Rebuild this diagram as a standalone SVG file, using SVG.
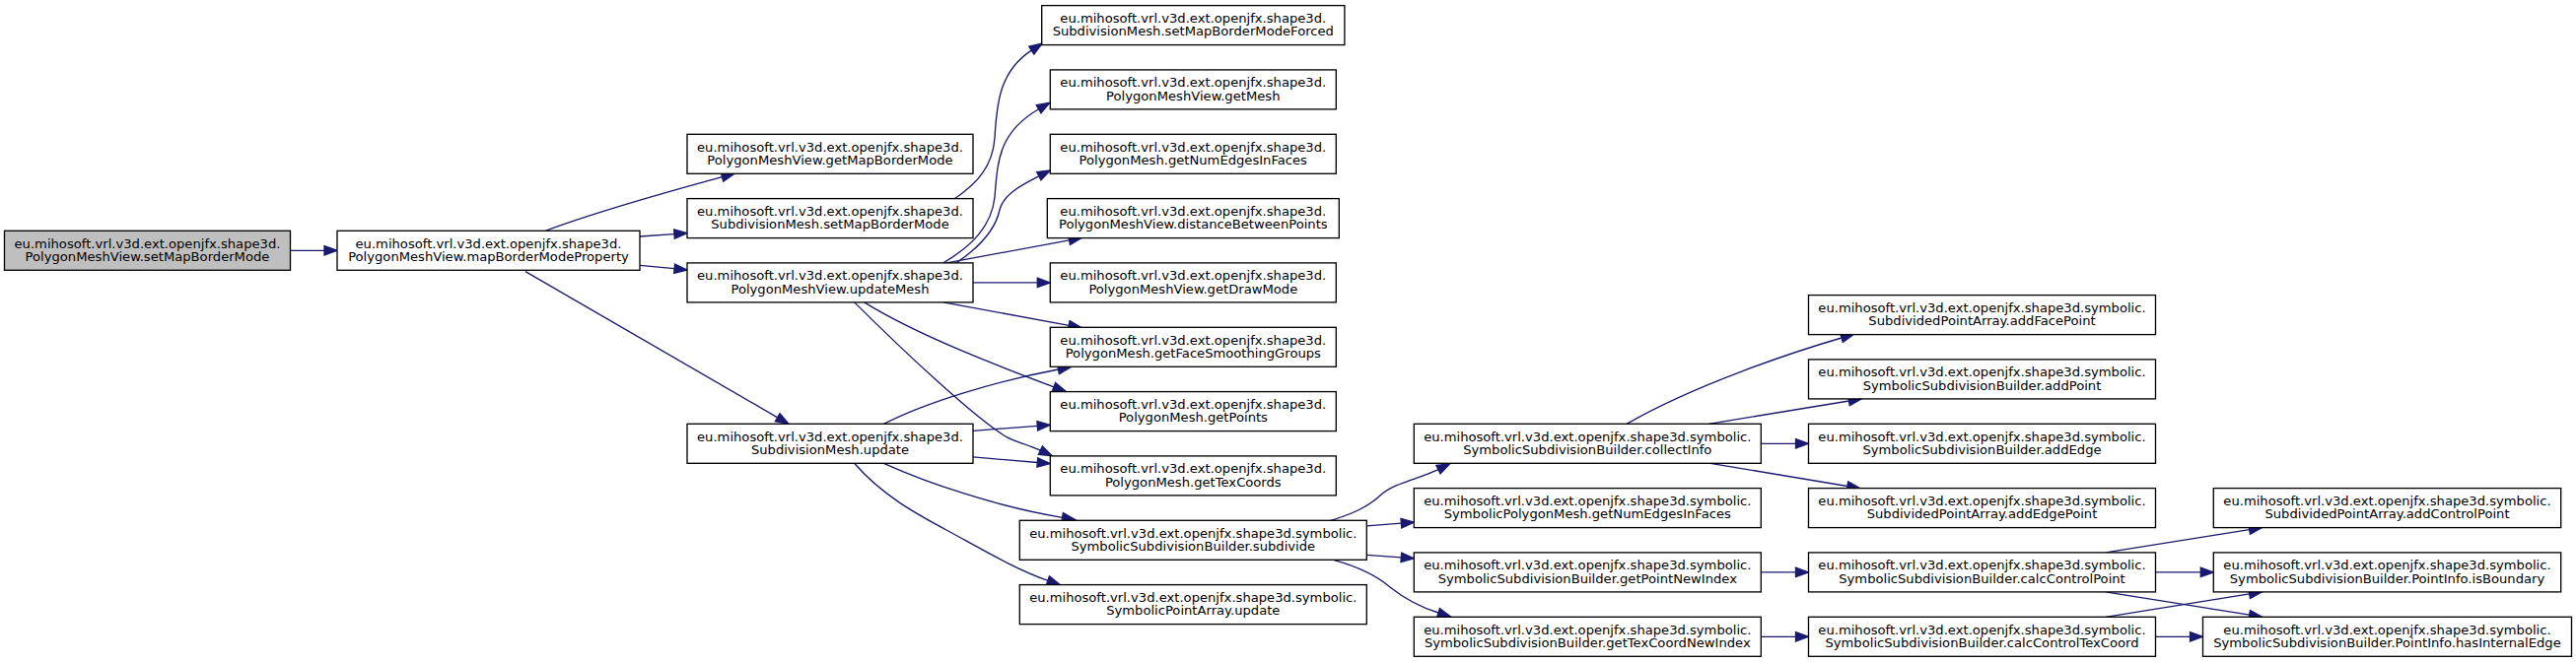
<svg xmlns="http://www.w3.org/2000/svg" width="2613" height="672" viewBox="0 0 2613 672">
<style>
.node rect{fill:#fff;stroke:#000;stroke-width:1.33}
.root rect{fill:#bfbfbf}
.node text{font-family:"DejaVu Sans",sans-serif;font-size:13.13px;text-anchor:middle;fill:#000}
.edge path{fill:none;stroke:#191970;stroke-width:1.33;marker-end:url(#ah)}
</style>
<defs>
<marker id="ah" viewBox="0 0 13 9.4" refX="0" refY="4.7" markerWidth="13" markerHeight="9.4" markerUnits="userSpaceOnUse" orient="auto" overflow="visible">
<path d="M0,0 L13,4.7 L0,9.4 Z" fill="#191970" stroke="#191970" stroke-width="1.33"/>
</marker>
</defs>
<rect width="2613" height="672" fill="#fff"/>
<g id="connectors" class="edge">
<path d="M294.7,254.3 L329,254.3"/>
<path d="M553.3,234.3 C600,217 680,194 732.5,179.7"/>
<path d="M649,240 L684,237.6"/>
<path d="M649,269.3 L684.1,272.7"/>
<path d="M533,275.7 L788.7,423.8"/>
<path d="M968.3,201.7 C992,186 1007,168 1009,140 C1011,105 1014,72 1046.3,51.1"/>
<path d="M957,266.9 C985,250 1006,230 1009,200 C1012,165 1012,135 1053.6,110.75"/>
<path d="M970,266.9 C995,250 1010,232 1014,213 C1018,197 1036,188 1053.8,178.8"/>
<path d="M960.4,266.9 L1084.6,243.8"/>
<path d="M987,286.9 L1052.3,286.9"/>
<path d="M956.8,306.9 L1084.2,330.3"/>
<path d="M876.7,306.9 C930,340 1010,370.6 1069,392.8"/>
<path d="M866.7,306.9 C920,360 990,425 1020,443 C1030,449 1040,450 1055.4,457.2"/>
<path d="M896.5,430.3 C940,408 1010,387 1073.5,375"/>
<path d="M987,437.3 L1052.3,432.3"/>
<path d="M987,463.9 L1052.3,469.5"/>
<path d="M896.5,470.3 C940,490 1010,514 1077.6,525.3"/>
<path d="M866.6,470.3 C895,503 930,522 960,538 C995,557 1030,578 1062.9,589.3"/>
<path d="M1348.3,529 C1370,522 1386,516 1400,503 C1414,490 1440,486 1459,476.7"/>
<path d="M1386.3,533.9 L1421.4,531.2"/>
<path d="M1386.3,563.3 L1421.3,565.9"/>
<path d="M1353.3,568.7 C1380,576 1397,585 1410,596 C1425,608 1440,616 1459,622"/>
<path d="M1650,430.3 C1720,390 1820,357 1868,343"/>
<path d="M1733.3,430.3 L1875.5,407"/>
<path d="M1786.3,450.3 L1821.5,450.3"/>
<path d="M1735,470.3 L1873.9,493.5"/>
<path d="M1786.3,580.9 L1821.5,580.9"/>
<path d="M1786.3,646.3 L1821.5,646.3"/>
<path d="M2135.8,560.9 L2281.7,537.6"/>
<path d="M2186.5,580.9 L2232.3,580.9"/>
<path d="M2135.8,600.9 L2281.7,624.2"/>
<path d="M2135.8,626.3 L2281.7,602.9"/>
<path d="M2186.5,646.3 L2221.5,646.3"/>
</g>
<g id="n0" class="node root"><rect x="4.5" y="234.3" width="290" height="40"/><text x="149.5" y="251.5">eu.mihosoft.vrl.v3d.ext.openjfx.shape3d.</text><text x="149.5" y="264.9">PolygonMeshView.setMapBorderMode</text></g>
<g id="n1" class="node"><rect x="342" y="234.3" width="307" height="40"/><text x="495.5" y="251.5">eu.mihosoft.vrl.v3d.ext.openjfx.shape3d.</text><text x="495.5" y="264.9">PolygonMeshView.mapBorderModeProperty</text></g>
<g id="n2" class="node"><rect x="697" y="136.3" width="290" height="40"/><text x="842" y="153.5">eu.mihosoft.vrl.v3d.ext.openjfx.shape3d.</text><text x="842" y="166.9">PolygonMeshView.getMapBorderMode</text></g>
<g id="n3" class="node"><rect x="697" y="201.6" width="290" height="40"/><text x="842" y="218.8">eu.mihosoft.vrl.v3d.ext.openjfx.shape3d.</text><text x="842" y="232.2">SubdivisionMesh.setMapBorderMode</text></g>
<g id="n4" class="node"><rect x="697" y="266.9" width="290" height="40"/><text x="842" y="284.1">eu.mihosoft.vrl.v3d.ext.openjfx.shape3d.</text><text x="842" y="297.5">PolygonMeshView.updateMesh</text></g>
<g id="n5" class="node"><rect x="697" y="430.3" width="290" height="40"/><text x="842" y="447.5">eu.mihosoft.vrl.v3d.ext.openjfx.shape3d.</text><text x="842" y="460.9">SubdivisionMesh.update</text></g>
<g id="n6" class="node"><rect x="1056.7" y="5.6" width="307.2" height="40"/><text x="1210.3" y="22.8">eu.mihosoft.vrl.v3d.ext.openjfx.shape3d.</text><text x="1210.3" y="36.2">SubdivisionMesh.setMapBorderModeForced</text></g>
<g id="n7" class="node"><rect x="1065.3" y="70.9" width="290" height="40"/><text x="1210.3" y="88.1">eu.mihosoft.vrl.v3d.ext.openjfx.shape3d.</text><text x="1210.3" y="101.5">PolygonMeshView.getMesh</text></g>
<g id="n8" class="node"><rect x="1065.3" y="136.3" width="290" height="40"/><text x="1210.3" y="153.5">eu.mihosoft.vrl.v3d.ext.openjfx.shape3d.</text><text x="1210.3" y="166.9">PolygonMesh.getNumEdgesInFaces</text></g>
<g id="n9" class="node"><rect x="1062.3" y="201.6" width="296" height="40"/><text x="1210.3" y="218.8">eu.mihosoft.vrl.v3d.ext.openjfx.shape3d.</text><text x="1210.3" y="232.2">PolygonMeshView.distanceBetweenPoints</text></g>
<g id="n10" class="node"><rect x="1065.3" y="266.9" width="290" height="40"/><text x="1210.3" y="284.1">eu.mihosoft.vrl.v3d.ext.openjfx.shape3d.</text><text x="1210.3" y="297.5">PolygonMeshView.getDrawMode</text></g>
<g id="n11" class="node"><rect x="1065.3" y="332.3" width="290" height="40"/><text x="1210.3" y="349.5">eu.mihosoft.vrl.v3d.ext.openjfx.shape3d.</text><text x="1210.3" y="362.9">PolygonMesh.getFaceSmoothingGroups</text></g>
<g id="n12" class="node"><rect x="1065.3" y="397.6" width="290" height="40"/><text x="1210.3" y="414.8">eu.mihosoft.vrl.v3d.ext.openjfx.shape3d.</text><text x="1210.3" y="428.2">PolygonMesh.getPoints</text></g>
<g id="n13" class="node"><rect x="1065.3" y="462.9" width="290" height="40"/><text x="1210.3" y="480.1">eu.mihosoft.vrl.v3d.ext.openjfx.shape3d.</text><text x="1210.3" y="493.5">PolygonMesh.getTexCoords</text></g>
<g id="n14" class="node"><rect x="1034.3" y="528.3" width="352" height="40"/><text x="1210.3" y="545.5">eu.mihosoft.vrl.v3d.ext.openjfx.shape3d.symbolic.</text><text x="1210.3" y="558.9">SymbolicSubdivisionBuilder.subdivide</text></g>
<g id="n15" class="node"><rect x="1034.3" y="593.6" width="352" height="40"/><text x="1210.3" y="610.8">eu.mihosoft.vrl.v3d.ext.openjfx.shape3d.symbolic.</text><text x="1210.3" y="624.2">SymbolicPointArray.update</text></g>
<g id="n16" class="node"><rect x="1434.3" y="430.3" width="352" height="40"/><text x="1610.3" y="447.5">eu.mihosoft.vrl.v3d.ext.openjfx.shape3d.symbolic.</text><text x="1610.3" y="460.9">SymbolicSubdivisionBuilder.collectInfo</text></g>
<g id="n17" class="node"><rect x="1434.3" y="495.6" width="352" height="40"/><text x="1610.3" y="512.8">eu.mihosoft.vrl.v3d.ext.openjfx.shape3d.symbolic.</text><text x="1610.3" y="526.2">SymbolicPolygonMesh.getNumEdgesInFaces</text></g>
<g id="n18" class="node"><rect x="1434.3" y="560.9" width="352" height="40"/><text x="1610.3" y="578.1">eu.mihosoft.vrl.v3d.ext.openjfx.shape3d.symbolic.</text><text x="1610.3" y="591.5">SymbolicSubdivisionBuilder.getPointNewIndex</text></g>
<g id="n19" class="node"><rect x="1434.3" y="626.3" width="352" height="40"/><text x="1610.3" y="643.5">eu.mihosoft.vrl.v3d.ext.openjfx.shape3d.symbolic.</text><text x="1610.3" y="656.9">SymbolicSubdivisionBuilder.getTexCoordNewIndex</text></g>
<g id="n20" class="node"><rect x="1834.5" y="299.6" width="352" height="40"/><text x="2010.5" y="316.8">eu.mihosoft.vrl.v3d.ext.openjfx.shape3d.symbolic.</text><text x="2010.5" y="330.2">SubdividedPointArray.addFacePoint</text></g>
<g id="n21" class="node"><rect x="1834.5" y="364.9" width="352" height="40"/><text x="2010.5" y="382.1">eu.mihosoft.vrl.v3d.ext.openjfx.shape3d.symbolic.</text><text x="2010.5" y="395.5">SymbolicSubdivisionBuilder.addPoint</text></g>
<g id="n22" class="node"><rect x="1834.5" y="430.3" width="352" height="40"/><text x="2010.5" y="447.5">eu.mihosoft.vrl.v3d.ext.openjfx.shape3d.symbolic.</text><text x="2010.5" y="460.9">SymbolicSubdivisionBuilder.addEdge</text></g>
<g id="n23" class="node"><rect x="1834.5" y="495.6" width="352" height="40"/><text x="2010.5" y="512.8">eu.mihosoft.vrl.v3d.ext.openjfx.shape3d.symbolic.</text><text x="2010.5" y="526.2">SubdividedPointArray.addEdgePoint</text></g>
<g id="n24" class="node"><rect x="1834.5" y="560.9" width="352" height="40"/><text x="2010.5" y="578.1">eu.mihosoft.vrl.v3d.ext.openjfx.shape3d.symbolic.</text><text x="2010.5" y="591.5">SymbolicSubdivisionBuilder.calcControlPoint</text></g>
<g id="n25" class="node"><rect x="1834.5" y="626.3" width="352" height="40"/><text x="2010.5" y="643.5">eu.mihosoft.vrl.v3d.ext.openjfx.shape3d.symbolic.</text><text x="2010.5" y="656.9">SymbolicSubdivisionBuilder.calcControlTexCoord</text></g>
<g id="n26" class="node"><rect x="2245.3" y="495.6" width="352.4" height="40"/><text x="2421.5" y="512.8">eu.mihosoft.vrl.v3d.ext.openjfx.shape3d.symbolic.</text><text x="2421.5" y="526.2">SubdividedPointArray.addControlPoint</text></g>
<g id="n27" class="node"><rect x="2245.3" y="560.9" width="352.4" height="40"/><text x="2421.5" y="578.1">eu.mihosoft.vrl.v3d.ext.openjfx.shape3d.symbolic.</text><text x="2421.5" y="591.5">SymbolicSubdivisionBuilder.PointInfo.isBoundary</text></g>
<g id="n28" class="node"><rect x="2234.5" y="626.3" width="374" height="40"/><text x="2421.5" y="643.5">eu.mihosoft.vrl.v3d.ext.openjfx.shape3d.symbolic.</text><text x="2421.5" y="656.9">SymbolicSubdivisionBuilder.PointInfo.hasInternalEdge</text></g>
</svg>
